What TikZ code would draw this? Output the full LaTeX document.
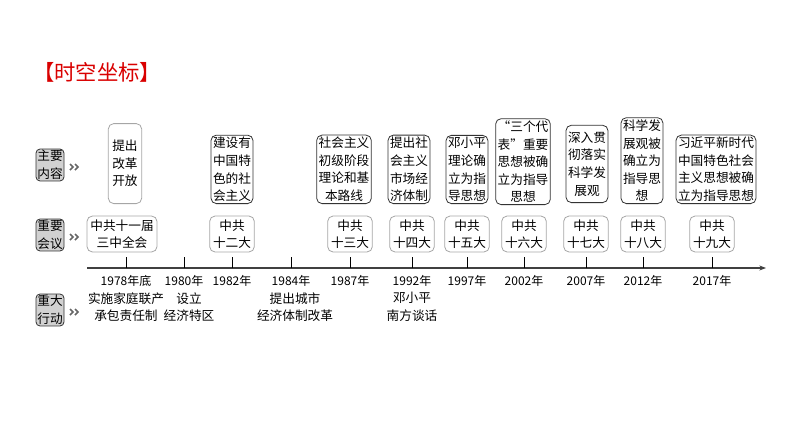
\documentclass[tikz,border=0pt]{standalone}
\usepackage{fontspec}
\newfontfamily\cjk{Noto Sans CJK SC}
\setmainfont{Liberation Serif}
\usetikzlibrary{arrows.meta}
\begin{document}
\begin{tikzpicture}[x=0.75pt,y=-0.75pt,
  txt/.style={font=\fontsize{9.5}{13.2}\selectfont\cjk, align=center, inner sep=1.5pt},
  cbox/.style={txt, draw=black!80, rounded corners=4pt, anchor=south, line width=0.6pt},
  mbox/.style={txt, draw=black!35, rounded corners=4pt, line width=0.6pt, inner sep=2.5pt},
  side/.style={txt, draw=black!80, fill=black!18, rounded corners=3pt, inner sep=1pt, line width=0.6pt},
  chevl/.style={draw=black!60, line width=1.1pt},
  yr/.style={font=\fontsize{9}{10}\selectfont\cjk, inner sep=0pt}]
\useasboundingbox (0,0) rectangle (794,447);
\node[font=\fontsize{16}{18}\selectfont\cjk, text=red!85!black, anchor=west, inner sep=0pt] (title) at (33,72) {【时空坐标】};
% side labels
\node[side] (s1) at (50,165) {主要\\内容};
\node[side] (s2) at (50,235) {重要\\会议};
\node[side] (s3) at (50,310) {重大\\行动};
\foreach \s/\yy in {a/167,b/237,c/312}{
  \coordinate (ch\s1) at (70,\yy-3); \coordinate (ch\s2) at (73,\yy); \coordinate (ch\s3) at (70,\yy+3);
  \coordinate (ch\s4) at (75,\yy-3); \coordinate (ch\s5) at (78,\yy); \coordinate (ch\s6) at (75,\yy+3);
  \draw[chevl] (ch\s1) -- (ch\s2) -- (ch\s3);
  \draw[chevl] (ch\s4) -- (ch\s5) -- (ch\s6);
}
% axis
\coordinate (a0) at (87,268);
\coordinate (a1) at (766,268);
\draw[line width=1pt, black!75, -{Stealth[length=5pt]}] (a0) -- (a1);
\foreach \x/\n/\y in {126/a/1978年底,184/b/1980年,232/c/1982年,291/d/1984年,350/e/1987年,412/f/1992年,467/g/1997年,524/h/2002年,586/i/2007年,643/j/2012年,712/k/2017年}{
  \coordinate (t\n) at (\x,268);
  \coordinate (u\n) at (\x,257);
  \draw[line width=0.7pt] (t\n) -- (u\n);
  \node[yr] (y\n) at (\x,281) {\y};
}
% meetings
\node[mbox] (m1) at (122,234) {中共十一届\\三中全会};
\node[mbox] (m2) at (232,234) {中共\\十二大};
\node[mbox] (m3) at (350,234) {中共\\十三大};
\node[mbox] (m4) at (412,234) {中共\\十四大};
\node[mbox] (m5) at (467,234) {中共\\十五大};
\node[mbox] (m6) at (524,234) {中共\\十六大};
\node[mbox] (m7) at (586,234) {中共\\十七大};
\node[mbox] (m8) at (643,234) {中共\\十八大};
\node[mbox] (m9) at (712,234) {中共\\十九大};
% contents
\node[cbox, draw=black!35, minimum height=60pt, inner sep=3pt] (p1) at (125,204) {提出\\改革\\开放};
\node[cbox] (p2) at (232,204) {建设有\\中国特\\色的社\\会主义};
\node[cbox] (p3) at (344,204) {社会主义\\初级阶段\\理论和基\\本路线};
\node[cbox] (p4) at (409,204) {提出社\\会主义\\市场经\\济体制};
\node[cbox] (p5) at (467,204) {邓小平\\理论确\\立为指\\导思想};
\node[cbox] (p6) at (523,205) {“三个代\\表”重要\\思想被确\\立为指导\\思想};
\node[cbox, minimum height=58pt] (p7) at (587,203) {深入贯\\彻落实\\科学发\\展观};
\node[cbox] (p8) at (642,204) {科学发\\展观被\\确立为\\指导思\\想};
\node[cbox] (p9) at (716,204) {习近平新时代\\中国特色社会\\主义思想被确\\立为指导思想};
% actions
\node[txt] (r1) at (126,307) {实施家庭联产\\承包责任制};
\node[txt] (r2) at (189,307) {设立\\经济特区};
\node[txt] (r3) at (295,307) {提出城市\\经济体制改革};
\node[txt] (r4) at (412,307) {邓小平\\南方谈话};
\end{tikzpicture}
\end{document}
